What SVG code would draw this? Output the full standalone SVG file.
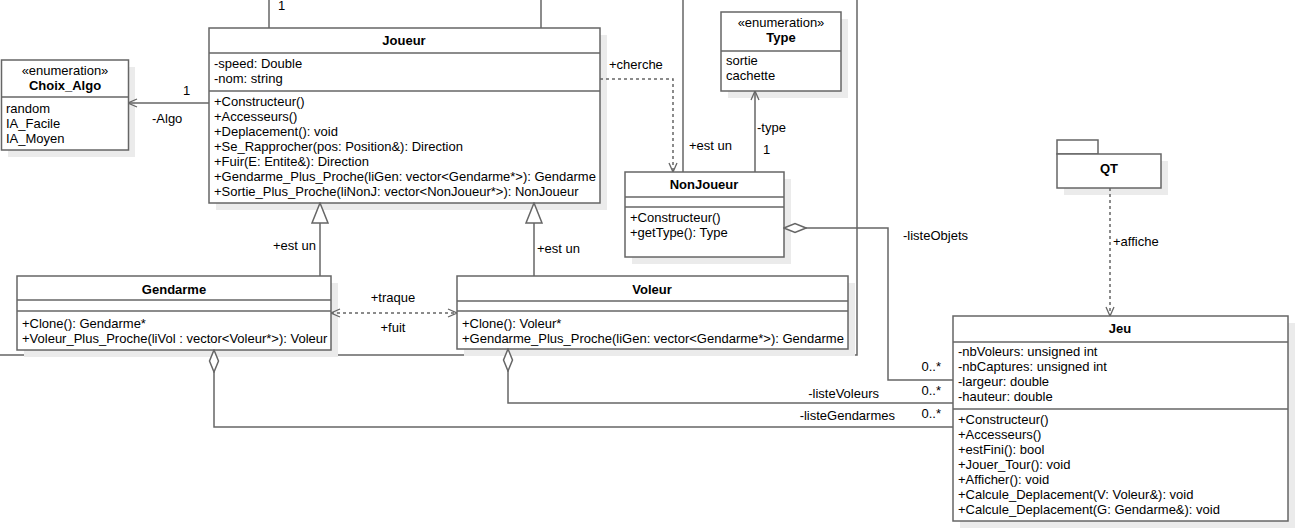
<svg xmlns="http://www.w3.org/2000/svg" width="1304" height="531" viewBox="0 0 1304 531">
  <style>
    text { font-family: "Liberation Sans", Arial, sans-serif; font-size: 13px; fill: #000; }
    .b { font-weight: bold; }
    .m { text-anchor: middle; }
    .e { text-anchor: end; }
    .box { fill: #fff; stroke: #666; stroke-width: 1.5; }
    .sh { fill: #ebebeb; stroke: none; }
    .sep { stroke: #666; stroke-width: 1.5; fill: none; }
    .ln { fill: none; stroke: #666; stroke-width: 1.5; }
    .dash { stroke-dasharray: 3 3; }
  </style>
  <defs>
    <marker id="open" viewBox="0 0 10 10" refX="10" refY="5" markerWidth="10" markerHeight="10" markerUnits="userSpaceOnUse" orient="auto-start-reverse">
      <path d="M1,1 L10,5 L1,9" fill="none" stroke="#666" stroke-width="1.3"/>
    </marker>
    <marker id="tri" viewBox="0 0 22 18" refX="21" refY="9" markerWidth="22" markerHeight="18" markerUnits="userSpaceOnUse" orient="auto">
      <path d="M1,1 L21,9 L1,17 Z" fill="#fff" stroke="#666" stroke-width="1.5"/>
    </marker>
    <marker id="dia" viewBox="0 0 24 12" refX="1" refY="6" markerWidth="24" markerHeight="12" markerUnits="userSpaceOnUse" orient="auto">
      <path d="M1,6 L12,1.5 L23,6 L12,10.5 Z" fill="#fff" stroke="#666" stroke-width="1.5"/>
    </marker>
  </defs>

  <!-- long association running behind the Gendarme and Voleur boxes -->
  <g id="connector-loop">
    <path class="ln" d="M857,0 V355 H0"/>
  </g>

  <!-- Choix_Algo enumeration -->
  <g id="choix_algo">
    <rect class="sh" x="8" y="67" width="127" height="90"/>
    <rect class="box" x="1.5" y="60" width="127" height="90"/>
    <line class="sep" x1="1.5" y1="97" x2="128.5" y2="97"/>
    <text class="m" x="65" y="75">«enumeration»</text>
    <text class="m b" x="65" y="90">Choix_Algo</text>
    <text x="6" y="113">random</text>
    <text x="6" y="128">IA_Facile</text>
    <text x="6" y="143">IA_Moyen</text>
  </g>

  <!-- Joueur -->
  <g id="joueur">
    <rect class="sh" x="216" y="35" width="391" height="175"/>
    <rect class="box" x="209" y="28" width="391" height="175"/>
    <line class="sep" x1="209" y1="53" x2="600" y2="53"/>
    <line class="sep" x1="209" y1="91" x2="600" y2="91"/>
    <text class="m b" x="404" y="45">Joueur</text>
    <text x="214" y="68">-speed: Double</text>
    <text x="214" y="83">-nom: string</text>
    <text x="214" y="106">+Constructeur()</text>
    <text x="214" y="121">+Accesseurs()</text>
    <text x="214" y="136">+Deplacement(): void</text>
    <text x="214" y="151">+Se_Rapprocher(pos: Position&amp;): Direction</text>
    <text x="214" y="166">+Fuir(E: Entite&amp;): Direction</text>
    <text x="214" y="181">+Gendarme_Plus_Proche(liGen: vector&lt;Gendarme*&gt;): Gendarme</text>
    <text x="214" y="196">+Sortie_Plus_Proche(liNonJ: vector&lt;NonJoueur*&gt;): NonJoueur</text>
  </g>

  <!-- Type enumeration -->
  <g id="type">
    <rect class="sh" x="728" y="19" width="120" height="79"/>
    <rect class="box" x="721" y="12" width="120" height="79"/>
    <line class="sep" x1="721" y1="51" x2="841" y2="51"/>
    <text class="m" x="781" y="27">«enumeration»</text>
    <text class="m b" x="781" y="42">Type</text>
    <text x="726" y="65">sortie</text>
    <text x="726" y="80">cachette</text>
  </g>

  <!-- NonJoueur -->
  <g id="nonjoueur">
    <rect class="sh" x="632" y="179" width="159" height="85"/>
    <rect class="box" x="625" y="172" width="159" height="85"/>
    <line class="sep" x1="625" y1="197" x2="784" y2="197"/>
    <line class="sep" x1="625" y1="207" x2="784" y2="207"/>
    <text class="m b" x="704" y="189">NonJoueur</text>
    <text x="630" y="222">+Constructeur()</text>
    <text x="630" y="237">+getType(): Type</text>
  </g>

  <!-- QT package -->
  <g id="qt">
    <rect class="sh" x="1064" y="161" width="104" height="34"/>
    <rect class="box" x="1057" y="140" width="41" height="14"/>
    <rect class="box" x="1057" y="154" width="104" height="34"/>
    <text class="m b" x="1109" y="173">QT</text>
  </g>

  <!-- Gendarme -->
  <g id="gendarme">
    <rect class="sh" x="24" y="283" width="314" height="74"/>
    <rect class="box" x="17" y="276" width="314" height="74"/>
    <line class="sep" x1="17" y1="300" x2="331" y2="300"/>
    <line class="sep" x1="17" y1="311" x2="331" y2="311"/>
    <text class="m b" x="174" y="294">Gendarme</text>
    <text x="22" y="328">+Clone(): Gendarme*</text>
    <text x="22" y="343">+Voleur_Plus_Proche(liVol : vector&lt;Voleur*&gt;): Voleur</text>
  </g>

  <!-- Voleur -->
  <g id="voleur">
    <rect class="sh" x="464" y="283" width="391" height="73"/>
    <rect class="box" x="457" y="276" width="391" height="73"/>
    <line class="sep" x1="457" y1="301" x2="848" y2="301"/>
    <line class="sep" x1="457" y1="311" x2="848" y2="311"/>
    <text class="m b" x="652" y="294">Voleur</text>
    <text x="462" y="328">+Clone(): Voleur*</text>
    <text x="462" y="343">+Gendarme_Plus_Proche(liGen: vector&lt;Gendarme*&gt;): Gendarme</text>
  </g>

  <!-- Jeu -->
  <g id="jeu">
    <rect class="sh" x="960" y="323" width="335" height="205"/>
    <rect class="box" x="953" y="316" width="335" height="205"/>
    <line class="sep" x1="953" y1="342" x2="1288" y2="342"/>
    <line class="sep" x1="953" y1="409" x2="1288" y2="409"/>
    <text class="m b" x="1120" y="333">Jeu</text>
    <text x="958" y="356">-nbVoleurs: unsigned int</text>
    <text x="958" y="371">-nbCaptures: unsigned int</text>
    <text x="958" y="386">-largeur: double</text>
    <text x="958" y="401">-hauteur: double</text>
    <text x="958" y="424">+Constructeur()</text>
    <text x="958" y="439">+Accesseurs()</text>
    <text x="958" y="454">+estFini(): bool</text>
    <text x="958" y="469">+Jouer_Tour(): void</text>
    <text x="958" y="484">+Afficher(): void</text>
    <text x="958" y="499">+Calcule_Deplacement(V: Voleur&amp;): void</text>
    <text x="958" y="514">+Calcule_Deplacement(G: Gendarme&amp;): void</text>
  </g>

  <!-- connectors -->
  <g id="connectors">
    <path class="ln" d="M269,0 V28"/>
    <text x="278" y="10">1</text>
    <path class="ln" d="M541,0 V28"/>
    <path class="ln" d="M683,0 V172"/>
    <text x="689" y="150">+est un</text>

    <path class="ln" d="M209,103 H128" marker-end="url(#open)"/>
    <text x="183" y="95">1</text>
    <text x="152" y="123">-Algo</text>

    <path class="ln dash" d="M600,79 H673 V172" marker-end="url(#open)"/>
    <text x="609" y="69">+cherche</text>

    <path class="ln" d="M755,172 V91" marker-end="url(#open)"/>
    <text x="757" y="132">-type</text>
    <text x="763" y="154">1</text>

    <path class="ln" d="M784,228 H888 V380 H953" marker-start="url(#dia)"/>
    <text x="903" y="240">-listeObjets</text>
    <text class="e" x="941" y="371">0..*</text>

    <path class="ln dash" d="M1110,188 V316" marker-end="url(#open)"/>
    <text x="1113" y="246">+affiche</text>

    <path class="ln" d="M320,276 V203" marker-end="url(#tri)"/>
    <text class="e" x="316" y="250">+est un</text>
    <path class="ln" d="M534,276 V203" marker-end="url(#tri)"/>
    <text x="537" y="253">+est un</text>

    <path class="ln dash" d="M331,313 H457" marker-start="url(#open)" marker-end="url(#open)"/>
    <text class="m" x="393" y="302">+traque</text>
    <text class="m" x="393" y="332">+fuit</text>

    <path class="ln" d="M508,349 V403 H953" marker-start="url(#dia)"/>
    <text class="e" x="879" y="398">-listeVoleurs</text>
    <text class="e" x="941" y="395">0..*</text>

    <path class="ln" d="M214,350 V427 H953" marker-start="url(#dia)"/>
    <text class="e" x="895" y="420">-listeGendarmes</text>
    <text class="e" x="941" y="418">0..*</text>
  </g>
</svg>
